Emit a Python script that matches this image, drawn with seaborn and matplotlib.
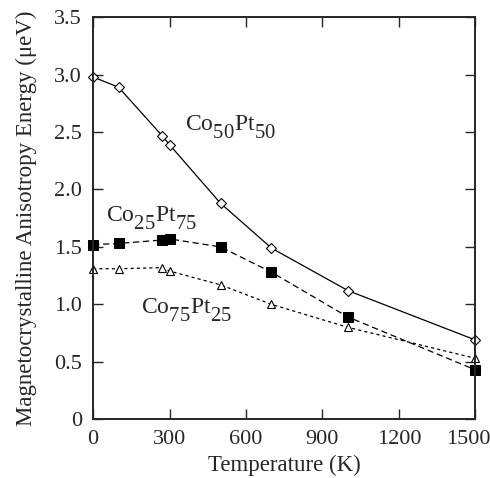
import numpy as np
import pandas as pd
import matplotlib
matplotlib.use("Agg")
import matplotlib.pyplot as plt
import matplotlib._mathtext as _mt
import matplotlib.transforms as mtransforms
import seaborn as sns

temps = [0, 100, 270, 300, 500, 700, 1000, 1500]
co50pt50 = [2.98, 2.89, 2.47, 2.39, 1.88, 1.49, 1.12, 0.69]
co25pt75 = [1.52, 1.53, 1.56, 1.57, 1.50, 1.28, 0.89, 0.43]
co75pt25 = [1.31, 1.31, 1.32, 1.29, 1.17, 1.00, 0.80, 0.53]
xticks = [0, 300, 600, 900, 1200, 1500]
yticks = [0, 0.5, 1.0, 1.5, 2.0, 2.5, 3.0, 3.5]
ytick_labels = ["0", "0.5", "1.0", "1.5", "2.0", "2.5", "3.0", "3.5"]

# larger and lower subscripts, closer to the reference typesetting
_mt.SHRINK_FACTOR = 0.88
_mt.FontConstantsBase.sub1 = 0.75
_mt.FontConstantsBase.sub2 = 0.9

sns.set_style("ticks")
plt.rcParams["font.family"] = ["Liberation Serif", "DejaVu Serif"]
plt.rcParams["mathtext.fontset"] = "custom"
plt.rcParams["mathtext.rm"] = "Liberation Serif"
plt.rcParams["mathtext.it"] = "Liberation Serif"
plt.rcParams["mathtext.default"] = "rm"

fig = plt.figure(figsize=(4.9, 4.78), dpi=100)
ax = fig.add_axes([0.190, 0.123, 0.780, 0.841])

df = pd.DataFrame({"T": temps, "a": co50pt50, "b": co25pt75, "c": co75pt25})

sns.lineplot(data=df, x="T", y="a", ax=ax, color="black", lw=0.9,
             marker="D", markersize=5, markerfacecolor="white",
             markeredgecolor="black", markeredgewidth=0.8, clip_on=False)
sns.lineplot(data=df, x="T", y="b", ax=ax, color="black", lw=0.9,
             linestyle=(0, (5, 3)), marker="s", markersize=7.5,
             markerfacecolor="black", markeredgecolor="black", clip_on=False)
sns.lineplot(data=df, x="T", y="c", ax=ax, color="black", lw=0.9,
             linestyle=(0, (2.5, 2.5)), marker="^", markersize=6,
             markerfacecolor="white", markeredgecolor="black",
             markeredgewidth=0.8, clip_on=False)

ax.set_xlim(0, 1500)
ax.set_ylim(0, 3.5)
ax.set_xticks(xticks)
ax.set_xticklabels([str(t) for t in xticks])
ax.set_yticks(yticks)
ax.set_yticklabels(ytick_labels)
ax.tick_params(direction="in", top=True, right=True, length=7, width=1,
               labelsize=16, pad=8)
for s in ax.spines.values():
    s.set_linewidth(1.4)

# nudge the last x tick label left so it stays inside the figure
last = ax.get_xticklabels()[-1]
last.set_transform(last.get_transform() +
                   mtransforms.ScaledTranslation(-7 / 100, 0, fig.dpi_scale_trans))

ax.set_xlabel("Temperature (K)", fontsize=16.5, labelpad=4)
ax.set_ylabel("Magnetocrystalline Anisotropy Energy (μeV)", fontsize=16.5,
              labelpad=12)

ax.text(359, 2.51, r"Co$_{50}$Pt$_{50}$", fontsize=17, va="baseline")
ax.text(51, 1.72, r"Co$_{25}$Pt$_{75}$", fontsize=17, va="baseline")
ax.text(189, 0.92, r"Co$_{75}$Pt$_{25}$", fontsize=17, va="baseline")

fig.savefig("out.png", dpi=100)
